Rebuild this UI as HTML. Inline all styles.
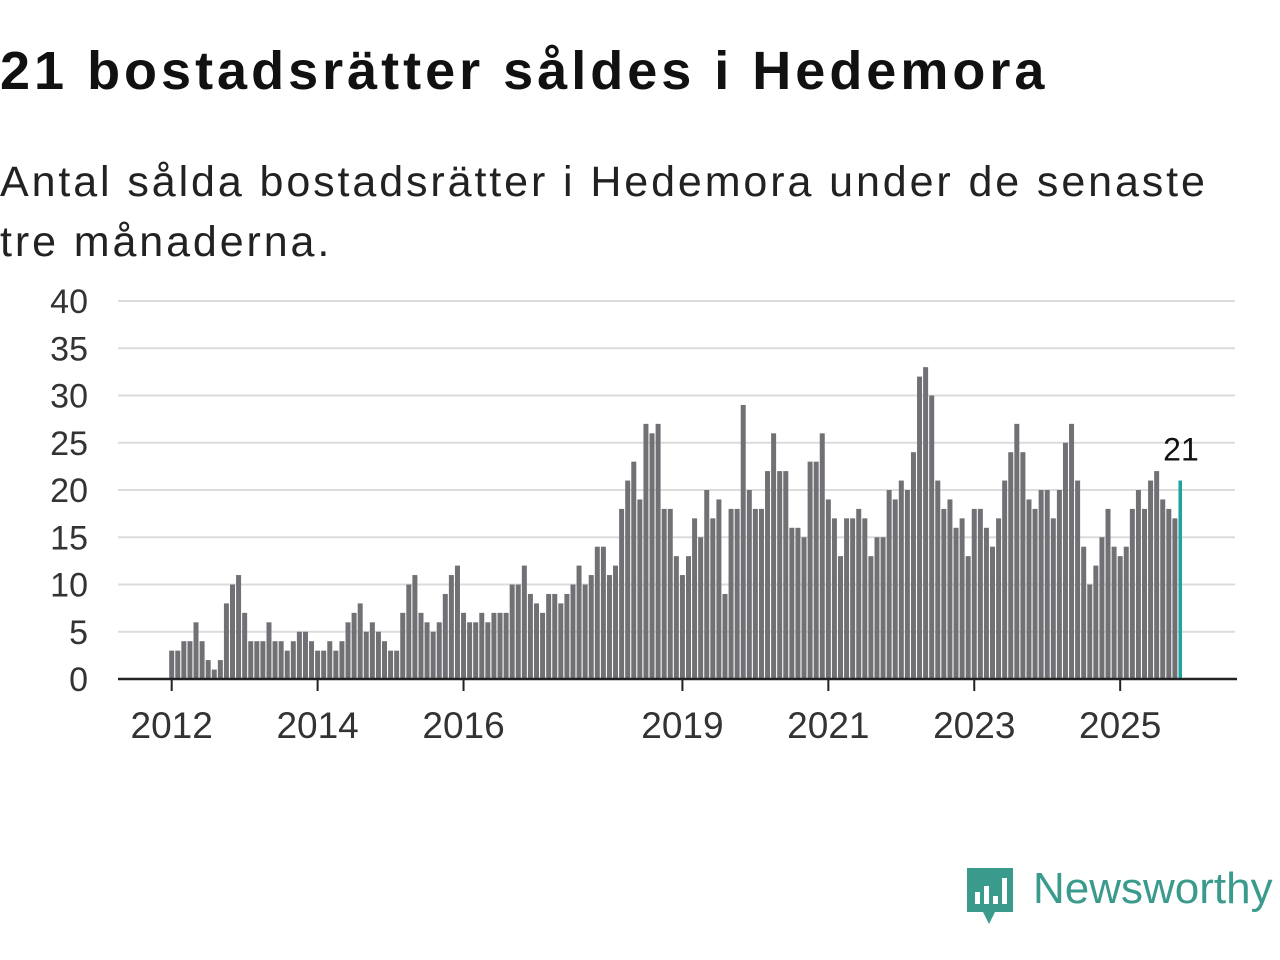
<!DOCTYPE html>
<html><head><meta charset="utf-8"><style>
body{margin:0;width:1280px;height:960px;background:#fff;font-family:"Liberation Sans",sans-serif;color:#111;overflow:hidden;position:relative}
h1{position:absolute;left:0;top:40px;margin:0;font-size:54px;font-weight:bold;letter-spacing:4px}
p{position:absolute;left:0;top:152px;margin:0;font-size:43px;letter-spacing:2.9px;line-height:60px;width:1236px;color:#222}
svg{position:absolute;left:0;top:0}
</style></head><body>
<h1>21 bostadsrätter såldes i Hedemora</h1>
<p>Antal sålda bostadsrätter i Hedemora under de senaste tre månaderna.</p>
<svg id="chart" width="1280" height="960"></svg>
<div style="position:absolute;left:965px;top:866px;width:320px;height:60px">
<svg width="52" height="60" style="position:absolute;left:0;top:0"><path d="M2 2 H48 V46 H30 L24 58 L18 46 H2 Z" fill="#3a9a8c"/><rect x="10" y="26" width="5" height="12" fill="#fff"/><rect x="19" y="20" width="5" height="18" fill="#fff"/><rect x="28" y="30" width="5" height="8" fill="#fff"/><rect x="37" y="12" width="5" height="26" fill="#fff"/></svg>
<span style="position:absolute;left:68px;top:-2px;font-size:44px;color:#3a9a8c">Newsworthy</span></div>
<script>
const values=[3,3,4,4,6,4,2,1,2,8,10,11, 7,4,4,4,6,4,4,3,4,5,5,4, 3,3,4,3,4,6,7,8,5,6,5,4, 3,3,7,10,11,7,6,5,6,9,11,12, 7,6,6,7,6,7,7,7,10,10,12,9, 8,7,9,9,8,9,10,12,10,11,14,14, 11,12,18,21,23,19,27,26,27,18,18,13, 11,13,17,15,20,17,19,9,18,18,29,20, 18,18,22,26,22,22,16,16,15,23,23,26, 19,17,13,17,17,18,17,13,15,15,20,19, 21,20,24,32,33,30,21,18,19,16,17,13, 18,18,16,14,17,21,24,27,24,19,18,20, 20,17,20,25,27,21,14,10,12,15,18,14, 13,14,18,20,18,21,22,19,18,17,21];
const yTicks=[0,5,10,15,20,25,30,35,40];
const xTickLabels=["2012","2014","2016","2019","2021","2023","2025"];
const xTickIndex=[0,24,48,84,108,132,156];
const NS="http://www.w3.org/2000/svg",svg=document.getElementById('chart');
const y=v=>679-v*(378/40), x=i=>171.7+i*6.08;
function mk(t,a,txt){const e=document.createElementNS(NS,t);for(const k in a)e.setAttribute(k,a[k]);if(txt!=null)e.textContent=txt;svg.appendChild(e);return e;}
yTicks.forEach(t=>{
 if(t>0){const g=mk('line',{x1:118,x2:1235,y1:y(t),y2:y(t),stroke:'#dcdcdc','stroke-width':2});
 
 }
 const l=mk('text',{x:88,y:y(t)+12,'text-anchor':'end','font-size':34,fill:'#333'},t);
 
 
});
values.forEach((v,i)=>{
 const last=i===values.length-1;
 const r=mk('rect',{x:x(i)-2.5,y:y(v),width:last?3.5:5,height:679-y(v),fill:last?'#1aa59a':'#717075'});
 
 
});
const ax=mk('line',{x1:118,x2:1237,y1:679,y2:679,stroke:'#222','stroke-width':2.5});


xTickIndex.forEach((ix,k)=>{
 const tk=mk('line',{x1:x(ix),x2:x(ix),y1:679,y2:691,stroke:'#222','stroke-width':2});
 
 
 const l=mk('text',{x:x(ix),y:738,'text-anchor':'middle','font-size':37,fill:'#333'},xTickLabels[k]);
 
 
});
const li=values.length-1;
const an=mk('text',{x:x(li),y:y(values[li])-20,'text-anchor':'middle','font-size':32,fill:'#111'},values[li]);


</script>
</body></html>
